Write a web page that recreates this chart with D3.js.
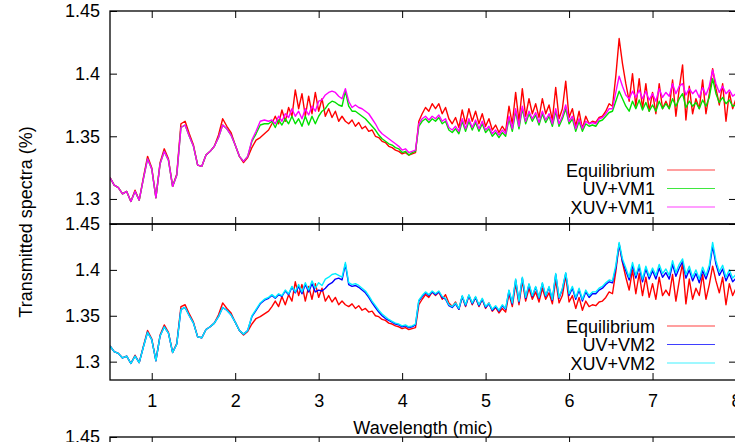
<!DOCTYPE html>
<html>
<head>
<meta charset="utf-8">
<script src="https://cdn.jsdelivr.net/npm/d3@7"></script>
<style>
body { margin: 0; background: #fff; }
svg { display: block; font-family: "Liberation Sans", Arial, Helvetica, sans-serif; }
</style>
</head>
<body>
<script>
// wavelengths (micron)
var wavelength = [
  0.50,0.55,0.60,0.65,0.70,0.75,0.80,0.85,0.90,0.95,
  1.00,1.05,1.10,1.15,1.20,1.25,1.30,1.35,1.40,1.45,
  1.50,1.55,1.60,1.65,1.70,1.75,1.80,1.85,1.90,1.95,
  2.00,2.05,2.10,2.15,2.20,2.25,2.30,2.35,
  2.40,2.44,2.48,2.52,2.56,2.60,2.64,2.68,2.72,2.76,
  2.80,2.84,2.88,2.92,2.96,3.00,3.04,3.08,3.12,3.16,
  3.20,3.24,3.28,3.32,3.36,3.40,3.44,3.48,3.52,3.56,
  3.60,3.64,3.68,3.72,3.76,3.80,3.84,3.88,3.92,3.96,
  4.00,4.04,4.08,4.12,4.16,4.20,4.24,4.28,4.32,4.36,
  4.40,4.44,4.48,4.52,4.56,4.60,4.64,4.68,4.72,4.76,
  4.80,4.84,4.88,4.92,4.96,5.00,5.04,5.08,5.12,5.16,
  5.20,5.24,5.28,5.32,5.36,5.40,5.44,5.48,5.52,5.56,
  5.60,5.64,5.68,5.72,5.76,5.80,5.84,5.88,5.92,5.96,
  6.00,6.04,6.08,6.12,6.16,6.20,6.24,6.28,6.32,6.36,
  6.40,6.44,6.48,6.52,6.56,6.60,6.64,6.68,6.72,6.76,
  6.80,6.84,6.88,6.92,6.96,7.00,7.04,7.08,7.12,7.16,
  7.20,7.24,7.28,7.32,7.36,7.40,7.44,7.48,7.52,7.56,
  7.60,7.64,7.68,7.72,7.76,7.80,7.84,7.88,7.92,7.96,
  8.00
];

var equilibrium = [
  1.317,1.311,1.309,1.304,1.306,1.298,1.307,1.299,1.317,1.334,
  1.325,1.301,1.329,1.340,1.332,1.310,1.320,1.360,1.362,1.352,
  1.343,1.327,1.326,1.335,1.338,1.342,1.351,1.364,1.358,1.353,
  1.343,1.334,1.329,1.333,1.341,1.347,1.349,1.352,
  1.355,1.360,1.366,1.360,1.371,1.362,1.373,1.366,1.387,1.372,
  1.384,1.366,1.382,1.368,1.385,1.370,1.380,1.366,1.372,1.365,
  1.370,1.362,1.366,1.362,1.360,1.363,1.358,1.361,1.356,1.358,
  1.354,1.355,1.350,1.349,1.346,1.345,1.342,1.341,1.339,1.338,
  1.336,1.337,1.335,1.336,1.337,1.362,1.368,1.373,1.370,1.376,
  1.372,1.376,1.368,1.373,1.364,1.360,1.365,1.357,1.371,1.360,
  1.372,1.362,1.370,1.360,1.368,1.358,1.364,1.355,1.359,1.353,
  1.358,1.354,1.374,1.360,1.385,1.362,1.388,1.366,1.380,1.368,
  1.376,1.365,1.380,1.368,1.375,1.363,1.389,1.364,1.372,1.394,
  1.365,1.372,1.358,1.370,1.356,1.366,1.360,1.362,1.361,1.365,
  1.366,1.370,1.376,1.374,1.398,1.428,1.408,1.392,1.378,1.400,
  1.374,1.396,1.372,1.392,1.370,1.385,1.368,1.392,1.372,1.378,
  1.372,1.395,1.366,1.388,1.407,1.363,1.390,1.368,1.380,1.372,
  1.395,1.368,1.384,1.404,1.388,1.375,1.392,1.362,1.385,1.372,
  1.380
];

var uvVM1 = [
  1.317,1.311,1.309,1.304,1.306,1.298,1.306,1.299,1.316,1.332,
  1.324,1.301,1.328,1.338,1.331,1.310,1.319,1.357,1.359,1.350,
  1.342,1.327,1.326,1.335,1.338,1.342,1.349,1.359,1.356,1.351,
  1.343,1.334,1.330,1.334,1.346,1.352,1.359,1.360,
  1.360,1.362,1.357,1.363,1.359,1.364,1.360,1.366,1.360,1.364,
  1.358,1.366,1.359,1.366,1.360,1.366,1.370,1.372,1.376,1.378,
  1.377,1.375,1.374,1.386,1.374,1.370,1.370,1.368,1.366,1.364,
  1.361,1.358,1.355,1.351,1.348,1.346,1.344,1.343,1.341,1.340,
  1.337,1.338,1.335,1.337,1.338,1.358,1.362,1.364,1.361,1.364,
  1.362,1.365,1.360,1.362,1.355,1.353,1.356,1.352,1.362,1.354,
  1.362,1.355,1.361,1.354,1.360,1.353,1.356,1.350,1.353,1.349,
  1.353,1.350,1.364,1.354,1.370,1.356,1.372,1.360,1.368,1.362,
  1.367,1.359,1.368,1.361,1.366,1.358,1.370,1.358,1.364,1.372,
  1.360,1.364,1.354,1.362,1.354,1.360,1.358,1.359,1.358,1.362,
  1.363,1.366,1.369,1.370,1.378,1.386,1.380,1.374,1.370,1.378,
  1.372,1.379,1.371,1.377,1.370,1.375,1.370,1.378,1.372,1.376,
  1.372,1.380,1.374,1.380,1.384,1.373,1.378,1.374,1.377,1.372,
  1.379,1.374,1.381,1.396,1.384,1.377,1.381,1.376,1.379,1.374,
  1.375
];

var xuvVM1 = [
  1.317,1.311,1.309,1.304,1.306,1.298,1.306,1.299,1.316,1.332,
  1.324,1.301,1.328,1.338,1.331,1.310,1.319,1.357,1.359,1.350,
  1.342,1.327,1.326,1.335,1.338,1.342,1.349,1.359,1.356,1.351,
  1.343,1.334,1.330,1.334,1.347,1.354,1.362,1.363,
  1.362,1.363,1.360,1.366,1.362,1.368,1.365,1.372,1.366,1.370,
  1.364,1.372,1.367,1.374,1.370,1.378,1.379,1.383,1.385,1.386,
  1.385,1.382,1.380,1.388,1.378,1.373,1.375,1.373,1.372,1.370,
  1.368,1.364,1.360,1.355,1.352,1.350,1.348,1.346,1.344,1.342,
  1.339,1.340,1.337,1.338,1.339,1.360,1.364,1.366,1.363,1.366,
  1.364,1.367,1.362,1.364,1.357,1.355,1.358,1.354,1.364,1.356,
  1.364,1.357,1.363,1.356,1.362,1.355,1.358,1.352,1.355,1.351,
  1.355,1.352,1.366,1.356,1.372,1.358,1.374,1.362,1.370,1.364,
  1.369,1.361,1.370,1.363,1.368,1.360,1.372,1.360,1.366,1.375,
  1.362,1.366,1.356,1.364,1.356,1.362,1.360,1.361,1.360,1.364,
  1.365,1.368,1.372,1.372,1.385,1.398,1.390,1.383,1.380,1.386,
  1.381,1.387,1.380,1.386,1.379,1.384,1.378,1.388,1.381,1.385,
  1.382,1.392,1.384,1.390,1.392,1.383,1.388,1.384,1.387,1.381,
  1.389,1.383,1.390,1.403,1.392,1.385,1.390,1.384,1.387,1.382,
  1.384
];

var uvVM2 = [
  1.317,1.311,1.309,1.304,1.306,1.298,1.306,1.299,1.316,1.332,
  1.324,1.301,1.328,1.338,1.331,1.310,1.319,1.357,1.359,1.350,
  1.342,1.327,1.326,1.335,1.338,1.342,1.349,1.359,1.356,1.351,
  1.343,1.334,1.330,1.334,1.349,1.356,1.363,1.367,
  1.369,1.372,1.369,1.373,1.371,1.377,1.373,1.381,1.375,1.382,
  1.374,1.384,1.376,1.385,1.376,1.378,1.377,1.380,1.384,1.386,
  1.390,1.391,1.389,1.406,1.384,1.382,1.383,1.381,1.378,1.375,
  1.370,1.364,1.359,1.354,1.350,1.347,1.345,1.343,1.341,1.340,
  1.338,1.339,1.337,1.338,1.340,1.366,1.371,1.375,1.372,1.376,
  1.373,1.376,1.370,1.368,1.361,1.359,1.363,1.357,1.371,1.361,
  1.372,1.363,1.370,1.361,1.368,1.359,1.363,1.356,1.360,1.355,
  1.361,1.357,1.377,1.363,1.389,1.365,1.391,1.369,1.384,1.371,
  1.381,1.369,1.385,1.371,1.381,1.367,1.395,1.369,1.379,1.396,
  1.372,1.380,1.368,1.378,1.366,1.376,1.370,1.374,1.374,1.378,
  1.380,1.384,1.387,1.386,1.402,1.428,1.409,1.399,1.389,1.405,
  1.391,1.403,1.387,1.401,1.390,1.399,1.390,1.402,1.392,1.397,
  1.390,1.406,1.393,1.402,1.409,1.391,1.400,1.388,1.396,1.386,
  1.399,1.390,1.401,1.426,1.406,1.394,1.401,1.388,1.396,1.387,
  1.391
];

var xuvVM2 = [
  1.317,1.311,1.309,1.304,1.306,1.298,1.306,1.299,1.316,1.332,
  1.324,1.301,1.328,1.338,1.331,1.310,1.319,1.357,1.359,1.350,
  1.342,1.327,1.326,1.335,1.338,1.342,1.349,1.359,1.356,1.351,
  1.343,1.334,1.330,1.334,1.350,1.357,1.364,1.368,
  1.370,1.373,1.370,1.374,1.372,1.378,1.374,1.382,1.376,1.384,
  1.376,1.386,1.378,1.388,1.380,1.386,1.383,1.390,1.392,1.395,
  1.396,1.394,1.392,1.408,1.386,1.384,1.385,1.383,1.380,1.377,
  1.372,1.366,1.361,1.356,1.352,1.349,1.346,1.344,1.342,1.341,
  1.339,1.340,1.338,1.339,1.341,1.367,1.372,1.376,1.373,1.377,
  1.374,1.377,1.371,1.369,1.362,1.360,1.364,1.358,1.372,1.362,
  1.373,1.364,1.371,1.362,1.369,1.360,1.364,1.357,1.361,1.356,
  1.362,1.358,1.378,1.364,1.390,1.366,1.392,1.370,1.385,1.372,
  1.382,1.370,1.386,1.372,1.382,1.368,1.396,1.370,1.380,1.397,
  1.374,1.382,1.370,1.380,1.368,1.378,1.372,1.376,1.376,1.380,
  1.382,1.386,1.389,1.388,1.405,1.430,1.412,1.402,1.392,1.408,
  1.394,1.406,1.390,1.404,1.393,1.402,1.394,1.406,1.396,1.401,
  1.394,1.410,1.397,1.406,1.412,1.395,1.404,1.392,1.400,1.390,
  1.403,1.394,1.405,1.430,1.410,1.398,1.405,1.392,1.400,1.391,
  1.395
];

var yTicks = [1.3, 1.35, 1.4, 1.45];
var xTicks = [1, 2, 3, 4, 5, 6, 7, 8];

var width = 735, height = 442;
var left = 110, right = 736;

var svg = d3.select('body').append('svg').attr('width', width).attr('height', height);

var x = d3.scaleLinear().domain([0.5, 8]).range([left, right]);

var panels = [
  { top: 11, bottom: 224, series: [
      { name: 'Equilibrium', values: equilibrium, color: '#ff0000' },
      { name: 'UV+VM1', values: uvVM1, color: '#00e000' },
      { name: 'XUV+VM1', values: xuvVM1, color: '#ff00ff' } ] },
  { top: 224, bottom: 380, series: [
      { name: 'Equilibrium', values: equilibrium, color: '#ff0000' },
      { name: 'UV+VM2', values: uvVM2, color: '#0000ff' },
      { name: 'XUV+VM2', values: xuvVM2, color: '#00eeff' } ] }
];

var fmt = d3.format('~g');

function styleAxis(g) {
  g.attr('font-size', 18).attr('font-family', '"Liberation Sans", Arial, sans-serif').attr('color', '#000');
  g.select('.domain').remove();
  g.selectAll('.tick line').attr('stroke-width', 1);
}

panels.forEach(function (p, i) {
  var y = d3.scaleLinear().domain([1.28, 1.45]).range([p.bottom, p.top]);

  svg.append('clipPath').attr('id', 'clip' + i)
    .append('rect').attr('x', left).attr('y', p.top).attr('width', right - left).attr('height', p.bottom - p.top);

  var line = d3.line()
    .x(function (d) { return x(d[0]); })
    .y(function (d) { return y(d[1]); });

  var plot = svg.append('g').attr('clip-path', 'url(#clip' + i + ')');
  p.series.forEach(function (s) {
    plot.append('path')
      .datum(wavelength.map(function (w, k) { return [w, s.values[k]]; }))
      .attr('fill', 'none')
      .attr('stroke', s.color)
      .attr('stroke-width', 1.4)
      .attr('stroke-linejoin', 'round')
      .attr('d', line);
  });

  // axes with inward ticks on all four sides
  svg.append('g').attr('transform', 'translate(' + left + ',0)')
    .call(d3.axisLeft(y).tickValues(yTicks).tickSize(-7).tickPadding(10).tickFormat(fmt))
    .call(styleAxis);
  svg.append('g').attr('transform', 'translate(' + right + ',0)')
    .call(d3.axisRight(y).tickValues(yTicks).tickSize(-7).tickFormat(''))
    .call(styleAxis);
  svg.append('g').attr('transform', 'translate(0,' + p.top + ')')
    .call(d3.axisTop(x).tickValues(xTicks).tickSize(-7).tickFormat(''))
    .call(styleAxis);
  svg.append('g').attr('transform', 'translate(0,' + p.bottom + ')')
    .call(d3.axisBottom(x).tickValues(xTicks).tickSize(-7).tickPadding(14)
      .tickFormat(i === panels.length - 1 ? fmt : ''))
    .call(styleAxis);

  svg.append('rect')
    .attr('x', left).attr('y', p.top)
    .attr('width', right - left).attr('height', p.bottom - p.top)
    .attr('fill', 'none').attr('stroke', '#000').attr('stroke-width', 1.3);

  // key
  var key = svg.append('g').attr('font-size', 18);
  p.series.forEach(function (s, k) {
    var ky = p.bottom - 54 + k * 18.5;
    key.append('text')
      .attr('x', 655).attr('y', ky + 6.5)
      .attr('text-anchor', 'end')
      .text(s.name);
    key.append('line')
      .attr('x1', 667).attr('x2', 715)
      .attr('y1', ky).attr('y2', ky)
      .attr('stroke', s.color).attr('stroke-width', 1.2).attr('opacity', 0.75);
  });
});

// top of the next panel, cut off by the frame
var y3 = d3.scaleLinear().domain([1.28, 1.45]).range([593, 437]);
svg.append('g').attr('transform', 'translate(' + left + ',0)')
  .call(d3.axisLeft(y3).tickValues([1.45]).tickSize(-7).tickPadding(10).tickFormat(fmt))
  .call(styleAxis);
svg.append('g').attr('transform', 'translate(0,437)')
  .call(d3.axisTop(x).tickValues(xTicks).tickSize(-7).tickFormat(''))
  .call(styleAxis);
svg.append('rect')
  .attr('x', left).attr('y', 437).attr('width', right - left).attr('height', 100)
  .attr('fill', 'none').attr('stroke', '#000').attr('stroke-width', 1.3);

// axis titles
svg.append('text')
  .attr('x', (left + right) / 2).attr('y', 434)
  .attr('text-anchor', 'middle').attr('font-size', 18)
  .text('Wavelength (mic)');

svg.append('text')
  .attr('transform', 'translate(32,222) rotate(-90)')
  .attr('text-anchor', 'middle').attr('font-size', 18)
  .text('Transmitted spectra (%)');
</script>
</body>
</html>
